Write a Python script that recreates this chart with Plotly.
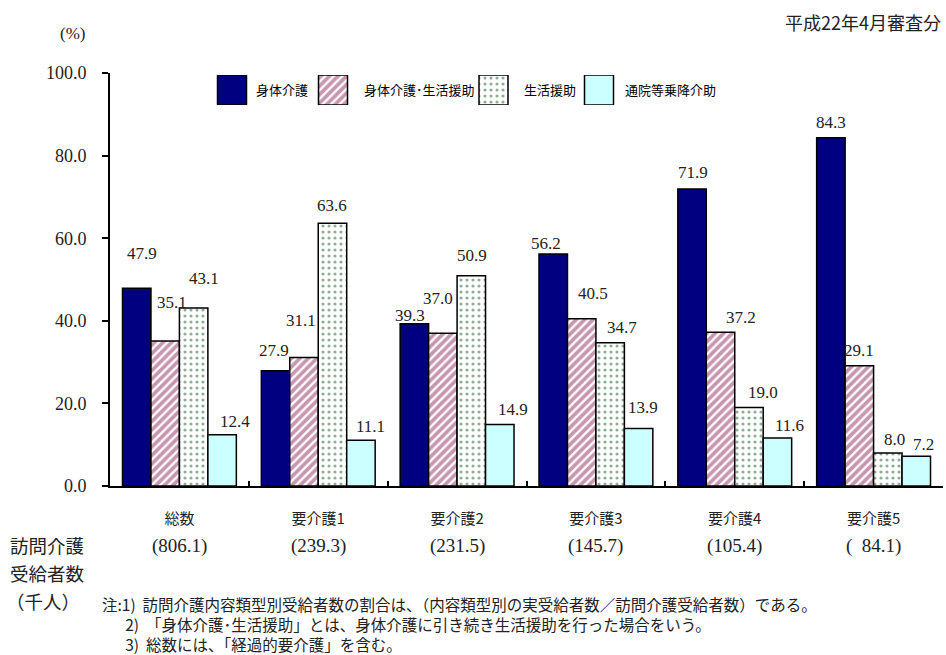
import plotly.graph_objects as go

# ---------------- data ----------------
categories = ["総数", "要介護1", "要介護2", "要介護3", "要介護4", "要介護5"]
series_names = ["身体介護", "身体介護･生活援助", "生活援助", "通院等乗降介助"]
shintai = [47.9, 27.9, 39.3, 56.2, 71.9, 84.3]
shintai_seikatsu = [35.1, 31.1, 37.0, 40.5, 37.2, 29.1]
seikatsu = [43.1, 63.6, 50.9, 34.7, 19.0, 8.0]
tsuin = [12.4, 11.1, 14.9, 13.9, 11.6, 7.2]
recipients = [806.1, 239.3, 231.5, 145.7, 105.4, 84.1]
y_ticks = [0, 20, 40, 60, 80, 100]
side_labels = ["訪問介護", "受給者数", "（千人）"]
notes = [
    "注:1)  訪問介護内容類型別受給者数の割合は、（内容類型別の実受給者数／訪問介護受給者数）である。",
    "2)  「身体介護･生活援助」とは、身体介護に引き続き生活援助を行った場合をいう。",
    "3)  総数には、「経過的要介護」を含む。",
]
series_values = [shintai, shintai_seikatsu, seikatsu, tsuin]

# ---------------- styles ----------------
SERIF = "Liberation Serif, Noto Sans CJK JP"
CJK = "Noto Sans CJK JP, Liberation Serif"
TXT = "#222222"
BARGAP = 0.18
markers = [
    dict(color="#000080", line=dict(color="black", width=1.5)),
    dict(color="white", line=dict(color="black", width=1.5),
         pattern=dict(shape="/", fgcolor="#8f2f60", bgcolor="white", size=6, solidity=0.62, fillmode="overlay")),
    dict(color="white", line=dict(color="black", width=1.5),
         pattern=dict(shape=".", fgcolor="#1f5a2c", bgcolor="white", size=6, solidity=0.22, fillmode="overlay")),
    dict(color="#CCFFFF", line=dict(color="black", width=1.5)),
]
# label offsets (px): [dx, dy_up] per series per category
label_offsets = [
    [(5, 35), (-2, 20), (-4, 8), (-7, 10), (1, 17), (0, 15)],
    [(7, 39), (-3, 37), (-5, 35), (11, 25), (20, 15), (0, 15)],
    [(10, 30), (0, 18), (1, 20), (12, 15), (14, 15), (7, 13)],
    [(13, 13), (10, 14), (13, 15), (4, 21), (12, 13), (7, 12)],
]

# plot area in pixels
L, R, T, B = 110, 943, 73, 486.5
W, H = 946, 655


def px_x(px):
    return (px - L) / (R - L)


def px_y(py):
    return (B - py) / (B - T)


fig = go.Figure()
for name, vals, mk in zip(series_names, series_values, markers):
    fig.add_trace(go.Bar(x=categories, y=vals, name=name, marker=mk, showlegend=False))

# custom legend swatches (on an overlay axis measured in pixels)
legend_centers = [232, 333, 493.5, 599]
legend_text_x = [254, 362, 522, 623]
for name, mk, cx in zip(series_names, markers, legend_centers):
    fig.add_trace(go.Bar(x=[cx], y=[1], width=[29], offset=[-14.5], marker=mk,
                         xaxis="x2", yaxis="y2", showlegend=False, hoverinfo="skip"))

annotations = []
bar_w = (1 - BARGAP) / 4
for k, vals in enumerate(series_values):
    for i, v in enumerate(vals):
        dx, dy = label_offsets[k][i]
        annotations.append(dict(
            x=i + (k - 1.5) * bar_w, y=v, xref="x", yref="y", text=f"{v:.1f}",
            showarrow=False, xshift=dx, yshift=dy, yanchor="middle",
            font=dict(family=SERIF, size=17, color=TXT)))

for name, tx in zip(series_names, legend_text_x):
    annotations.append(dict(x=px_x(tx), y=px_y(90), xref="paper", yref="paper", text=name,
                            showarrow=False, xanchor="left", yanchor="middle",
                            font=dict(family=CJK, size=13, color="black")))

for i, r in enumerate(recipients):
    annotations.append(dict(x=i, y=px_y(547), xref="x", yref="paper", text=f"({r:5.1f})".replace(" ", "\u2002"),
                            showarrow=False, yanchor="middle",
                            font=dict(family=SERIF, size=19, color=TXT)))

annotations += [
    dict(x=px_x(943), y=px_y(22), xref="paper", yref="paper", text="平成22年4月審査分",
         showarrow=False, xanchor="right", yanchor="middle", font=dict(family=CJK, size=18, color=TXT)),
    dict(x=px_x(72), y=px_y(33), xref="paper", yref="paper", text="(%)",
         showarrow=False, xanchor="center", yanchor="middle", font=dict(family=SERIF, size=17, color=TXT)),
]
for txt, sx, sy in zip(side_labels, [8, 8, 4], [546, 574, 602]):
    annotations.append(dict(x=px_x(sx), y=px_y(sy), xref="paper", yref="paper", text=txt,
                            showarrow=False, xanchor="left", yanchor="middle",
                            font=dict(family=CJK, size=18.5, color=TXT)))

# notes as one text block; lines 2 and 3 indented under "1)"
note_block = notes[0] + "<br>\u3000\u2002" + notes[1] + "<br>\u3000\u2002" + notes[2]
annotations.append(dict(x=px_x(100), y=px_y(592), xref="paper", yref="paper", text=note_block,
                        showarrow=False, xanchor="left", yanchor="top", align="left",
                        font=dict(family=CJK, size=15.5, color=TXT)))

fig.update_layout(
    width=W, height=H,
    margin=dict(l=L, r=W - R, t=T, b=H - B, pad=0),
    paper_bgcolor="white", plot_bgcolor="white",
    barmode="group", bargap=BARGAP, bargroupgap=0,
    showlegend=False,
    annotations=annotations,
    xaxis=dict(type="category", showline=True, linecolor="black", linewidth=2,
               ticks="inside", tickson="boundaries", ticklen=5, tickwidth=1.5, tickcolor="black",
               showgrid=False, zeroline=False, ticklabelstandoff=18,
               tickfont=dict(family=CJK, size=15, color=TXT), fixedrange=True),
    yaxis=dict(range=[0, 100], tickvals=y_ticks, ticktext=[f"{t:.1f}" for t in y_ticks],
               showline=True, linecolor="black", linewidth=2, ticks="outside", ticklen=6,
               tickwidth=1.5, tickcolor="black", showgrid=False, zeroline=False,
               ticklabelstandoff=12, tickfont=dict(family=SERIF, size=18, color=TXT), fixedrange=True),
    xaxis2=dict(domain=[0, 1], range=[L, R], anchor="y2", visible=False, fixedrange=True),
    yaxis2=dict(domain=[px_y(105), px_y(75)], range=[0, 1], anchor="x2", visible=False, fixedrange=True),
)

fig.write_html("out.html")
